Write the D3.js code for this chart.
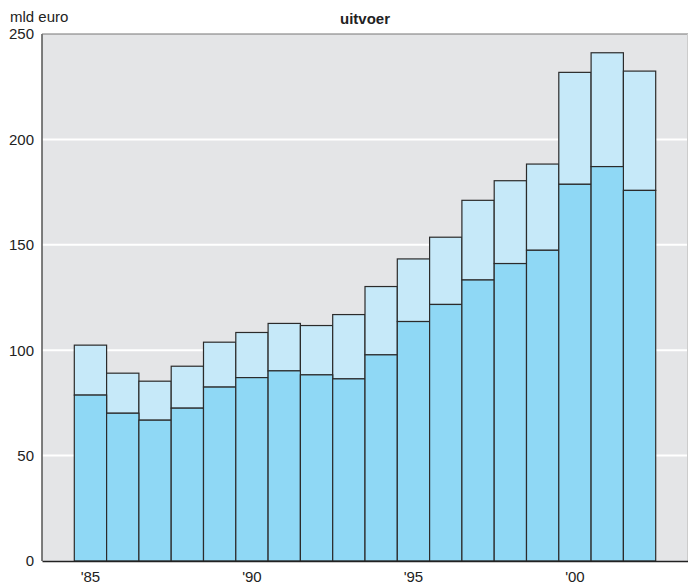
<!DOCTYPE html>
<html>
<head>
<meta charset="utf-8">
<script src="https://cdn.jsdelivr.net/npm/d3@7"></script>
<style>
  body { margin: 0; background: #fff; }
  text { font-family: "Liberation Sans", Arial, sans-serif; fill: #222; }
</style>
</head>
<body>
<div id="chart"></div>
<script>
const years = [1985, 1986, 1987, 1988, 1989, 1990, 1991, 1992, 1993, 1994,
               1995, 1996, 1997, 1998, 1999, 2000, 2001, 2002];
const lower = [78.7, 70.1, 66.8, 72.5, 82.5, 87.0, 90.2, 88.3, 86.4, 97.8,
               113.6, 121.7, 133.3, 141.1, 147.4, 178.7, 187.1, 175.8];
const totals = [102.4, 89.1, 85.3, 92.4, 103.8, 108.4, 112.7, 111.7, 116.9, 130.2,
                143.3, 153.6, 171.1, 180.4, 188.3, 231.8, 241.1, 232.4];
const yTicks = [0, 50, 100, 150, 200, 250];
const xTicks = [1985, 1990, 1995, 2000];

const W = 688, H = 585;
const margin = { top: 34, right: 0, bottom: 24, left: 42 };
const width = W - margin.left - margin.right,
      height = H - margin.top - margin.bottom;

const svg = d3.select("#chart").append("svg")
    .attr("width", W)
    .attr("height", H);

const g = svg.append("g")
    .attr("transform", `translate(${margin.left},${margin.top})`);

// one empty slot on each side of the bars
const x = d3.scaleBand()
    .domain(d3.range(1984, 2004))
    .range([0, width])
    .padding(0);
const y = d3.scaleLinear().domain([0, 250]).range([height, 0]);

// background
g.append("rect")
    .attr("width", width)
    .attr("height", height)
    .attr("fill", "#e4e5e7");

// gridlines
g.selectAll(".grid")
    .data(yTicks.filter(d => d > 0 && d < 250))
    .enter().append("line")
    .attr("x1", 0).attr("x2", width)
    .attr("y1", d => y(d)).attr("y2", d => y(d))
    .attr("stroke", "#fff")
    .attr("stroke-width", 2);

const data = years.map((yr, i) => ({ year: yr, low: lower[i], total: totals[i] }));

// upper (light) part
g.selectAll(".top")
    .data(data)
    .enter().append("rect")
    .attr("x", d => x(d.year))
    .attr("y", d => y(d.total))
    .attr("width", x.bandwidth())
    .attr("height", d => y(d.low) - y(d.total))
    .attr("fill", "#c6e9f9")
    .attr("stroke", "#2b2b2b")
    .attr("stroke-width", 1.2);

// lower (dark) part
g.selectAll(".bottom")
    .data(data)
    .enter().append("rect")
    .attr("x", d => x(d.year))
    .attr("y", d => y(d.low))
    .attr("width", x.bandwidth())
    .attr("height", d => height - y(d.low))
    .attr("fill", "#8fd8f5")
    .attr("stroke", "#2b2b2b")
    .attr("stroke-width", 1.2);

// frame: left and top
g.append("line")
    .attr("x1", 0).attr("x2", 0).attr("y1", 0).attr("y2", height)
    .attr("stroke", "#555").attr("stroke-width", 1.5);
g.append("line")
    .attr("x1", 0).attr("x2", width).attr("y1", 0).attr("y2", 0)
    .attr("stroke", "#777").attr("stroke-width", 1.2);
g.append("line")
    .attr("x1", width - 0.5).attr("x2", width - 0.5).attr("y1", 0).attr("y2", height)
    .attr("stroke", "#ccc").attr("stroke-width", 1);

// x axis
const xAxis = g.append("g")
    .attr("transform", `translate(0,${height})`)
    .call(d3.axisBottom(x).tickValues(xTicks).tickSize(0).tickPadding(10)
        .tickFormat(d => "'" + String(d).slice(2)));
xAxis.select(".domain").attr("stroke", "#222").attr("stroke-width", 1.5);
xAxis.selectAll("text")
    .style("font-size", "15px")
    .style("font-family", "Liberation Sans, Arial, sans-serif")
    .attr("fill", "#222");

// y axis
const yAxis = g.append("g")
    .call(d3.axisLeft(y).tickValues(yTicks).tickSize(0).tickPadding(8));
yAxis.select(".domain").remove();
yAxis.selectAll("text")
    .style("font-size", "15px")
    .style("font-family", "Liberation Sans, Arial, sans-serif")
    .attr("fill", "#222");

// unit label and title
svg.append("text")
    .attr("x", 10).attr("y", 22)
    .style("font-size", "15px")
    .text("mld euro");
svg.append("text")
    .attr("x", 365).attr("y", 24)
    .attr("text-anchor", "middle")
    .style("font-size", "15px")
    .style("font-weight", "bold")
    .text("uitvoer");
</script>
</body>
</html>
